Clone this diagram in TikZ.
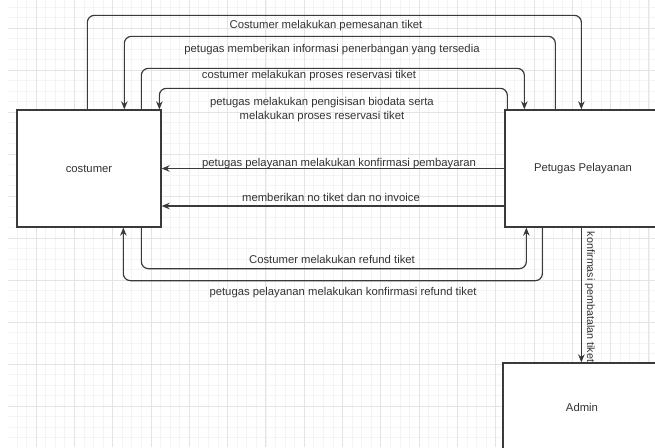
\documentclass[tikz,border=0pt]{standalone}
\usepackage{fontspec}
\setmainfont{Liberation Sans}
\usetikzlibrary{arrows.meta,calc}
\definecolor{ln}{HTML}{3A3A3A}
\definecolor{tx}{HTML}{333333}
\definecolor{gminor}{HTML}{F4F4F4}
\definecolor{gmajor}{HTML}{E4E4E4}
\begin{document}
\begin{tikzpicture}[x=1pt,y=-1pt,
 box/.style={draw=ln,line width=1.3pt,fill=white,text=tx,font=\fontsize{11.3}{13}\selectfont},
 flow/.style={draw=ln,line width=1.2pt,rounded corners=7pt,-{Stealth[length=8pt,width=6.5pt]}},
 lbl/.style={text=tx,font=\fontsize{11.3}{14}\selectfont,inner sep=0pt}]
\useasboundingbox (0,0) rectangle (655,447);
\fill[white] (0,0) rectangle (655,447);
\begin{scope}
\clip (8,0) rectangle (655,447);
\foreach \k in {-3,...,65} \draw[gminor,line width=0.6pt] ({36+9.575*\k},0) -- ({36+9.575*\k},447);
\foreach \k in {-2,...,40} \draw[gminor,line width=0.6pt] (8,{28+10.5*\k}) -- (655,{28+10.5*\k});
\foreach \k in {-1,...,16} \draw[gmajor,line width=0.8pt] ({36+38.3*\k},0) -- ({36+38.3*\k},447);
\foreach \k in {0,...,10} \draw[gmajor,line width=0.8pt] (8,{28+42*\k}) -- (655,{28+42*\k});
\end{scope}

\node[box,minimum width=144pt,minimum height=117pt] (cust) at (89,168.5) {costumer};
\node[box,minimum width=156pt,minimum height=117pt] (pet) at (583,168.5) {Petugas Pelayanan};
\node[box,minimum width=158pt,minimum height=88pt] (adm) at (582,407) {Admin};

\draw[flow] ([xshift=71pt]cust.north west) -- ++(0,-94) -| ([xshift=77pt]pet.north west);
\draw[flow] ([xshift=51pt]pet.north west) -- ++(0,-73) -| ([xshift=108pt]cust.north west);
\draw[flow] ([xshift=125pt]cust.north west) -- ++(0,-41) -| ([xshift=20pt]pet.north west);
\draw[flow] ([xshift=3pt]pet.north west) -- ++(0,-21) -| ([xshift=143pt]cust.north west);
\draw[flow] (pet.west) -- (pet.west -| cust.east);
\draw[flow] ([yshift=-37.5pt]pet.west) -- ([yshift=-37.5pt]cust.east);
\draw[flow] ([xshift=125pt]cust.south west) -- ++(0,41) -| ([xshift=22pt]pet.south west);
\draw[flow] ([xshift=38pt]pet.south west) -- ++(0,53) -| ([xshift=107pt]cust.south west);
\draw[flow] ([xshift=77pt]pet.south west) -- ([xshift=79pt]adm.north west);

\node[lbl] (l1) at (326,26) {Costumer melakukan pemesanan tiket};
\node[lbl] (l2) at (332,50) {petugas memberikan informasi penerbangan yang tersedia};
\node[lbl] (l3) at (309,76) {costumer melakukan proses reservasi tiket};
\node[lbl,align=center] (l4) at (322,110) {petugas melakukan pengisisan biodata serta\\melakukan proses reservasi tiket};
\node[lbl] (l5) at (339,164) {petugas pelayanan melakukan konfirmasi pembayaran};
\node[lbl] (l6) at (331,197) {memberikan no tiket dan no invoice};
\node[lbl] (l7) at (332,259) {Costumer melakukan refund tiket};
\node[lbl] (l8) at (343,293) {petugas pelayanan melakukan konfirmasi refund tiket};
\node[lbl,rotate=-90,font=\fontsize{10.7}{12}\selectfont] (l9) at (590,297) {konfirmasi pembatalan tiket};
\end{tikzpicture}
\end{document}
